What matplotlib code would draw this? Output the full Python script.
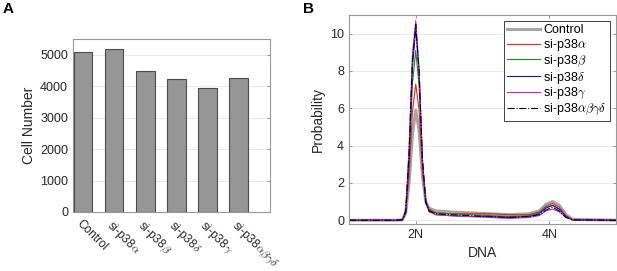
import matplotlib
matplotlib.use("Agg")
import matplotlib.pyplot as plt

plt.rcParams.update({
    "font.family": ["Liberation Sans", "DejaVu Sans"],
    "mathtext.fontset": "cm",
    "font.size": 9,
    "axes.edgecolor": "#999999",
    "xtick.color": "#999999",
    "ytick.color": "#999999",
    "xtick.labelcolor": "#262626",
    "ytick.labelcolor": "#262626",
    "xtick.direction": "in",
    "ytick.direction": "in",
    "xtick.major.size": 2.5,
    "ytick.major.size": 2.5,
})

# Panel A: cell numbers
conditions = ["Control", r"si-p38$\alpha$", r"si-p38$\beta$", r"si-p38$\delta$",
              r"si-p38$\gamma$", r"si-p38$\alpha\beta\gamma\delta$"]
cell_number = [5100, 5180, 4490, 4230, 3950, 4260]

# Panel B: DNA content distributions (x in units of N)
dna = [1.0, 1.7, 1.8, 1.85, 1.9, 1.95, 2.0, 2.05, 2.1, 2.15, 2.2, 2.3, 2.5,
       2.8, 3.1, 3.4, 3.7, 3.85, 3.95, 4.05, 4.15, 4.25, 4.35, 5.0]
p_control = [0, 0, 0.02, 0.4, 2.0, 4.6, 5.9, 4.8, 2.4, 1.0, 0.65, 0.5, 0.45,
             0.4, 0.35, 0.3, 0.35, 0.5, 0.85, 1.0, 0.8, 0.3, 0.05, 0]
p_alpha = [0, 0, 0.02, 0.4, 2.4, 5.8, 7.3, 5.9, 2.6, 1.0, 0.6, 0.4, 0.35,
           0.35, 0.35, 0.3, 0.3, 0.45, 0.75, 0.9, 0.7, 0.25, 0.03, 0]
p_beta = [0, 0, 0.02, 0.4, 3.0, 7.3, 9.1, 7.2, 3.1, 1.0, 0.55, 0.4, 0.35,
          0.3, 0.25, 0.2, 0.25, 0.4, 0.7, 0.8, 0.6, 0.2, 0.02, 0]
p_delta = [0, 0, 0.02, 0.4, 3.4, 8.2, 10.3, 8.0, 3.3, 1.0, 0.5, 0.3, 0.25,
           0.2, 0.2, 0.15, 0.2, 0.35, 0.65, 0.8, 0.6, 0.2, 0.02, 0]
p_gamma = [0, 0, 0.05, 0.6, 3.9, 8.9, 10.7, 8.1, 3.1, 0.9, 0.45, 0.3, 0.25,
           0.2, 0.15, 0.1, 0.15, 0.25, 0.5, 0.6, 0.45, 0.15, 0.02, 0]
p_all = [0, 0, 0.03, 0.5, 3.6, 8.5, 10.5, 7.9, 3.2, 0.95, 0.5, 0.35, 0.3,
         0.25, 0.2, 0.15, 0.2, 0.3, 0.55, 0.7, 0.5, 0.15, 0.02, 0]

fig = plt.figure(figsize=(6.17, 2.71), dpi=100)

# ---- Panel A ----
axA = fig.add_axes([73 / 617, 1 - 212 / 271, 197 / 617, 173 / 271])
pos = list(range(1, len(conditions) + 1))
axA.bar(pos, cell_number, width=0.6, color="#969696", edgecolor="#4d4d4d",
        linewidth=0.8, zorder=3)
axA.set_xlim(0.68, 7.0)
axA.set_ylim(0, 5500)
axA.set_yticks([0, 1000, 2000, 3000, 4000, 5000])
axA.set_xticks(pos)
axA.set_xticklabels(conditions, rotation=-45, ha="left", va="top",
                    rotation_mode="anchor", fontsize=8.5)
axA.tick_params(axis="x", length=0, pad=4)
axA.tick_params(top=True, right=True)
axA.tick_params(axis="y", labelsize=9)
axA.yaxis.grid(True, color="#e6e6e6", linewidth=0.6, zorder=0)
axA.set_ylabel("Cell Number", fontsize=10, color="#262626", labelpad=3)

# ---- Panel B ----
axB = fig.add_axes([349 / 617, 1 - 224 / 271, 267 / 617, 209 / 271])
axB.plot(dna, p_control, color="#a6a6a6", linewidth=2.2, label="Control")
axB.plot(dna, p_alpha, color="#e8261e", linewidth=0.8, label=r"si-p38$\alpha$")
axB.plot(dna, p_beta, color="#1a8a1a", linewidth=0.8, label=r"si-p38$\beta$")
axB.plot(dna, p_delta, color="#1414c8", linewidth=0.8, label=r"si-p38$\delta$")
axB.plot(dna, p_gamma, color="#cc22cc", linewidth=0.8, label=r"si-p38$\gamma$")
axB.plot(dna, p_all, color="black", linewidth=0.8, linestyle="-.",
         label=r"si-p38$\alpha\beta\gamma\delta$")
axB.set_xlim(1, 5)
axB.set_ylim(-0.2, 11)
axB.set_xticks([2, 4])
axB.set_xticklabels(["2N", "4N"])
axB.set_yticks([0, 2, 4, 6, 8, 10])
axB.tick_params(top=True, right=True, labelsize=9)
axB.yaxis.grid(True, color="#e6e6e6", linewidth=0.6, zorder=0)
axB.set_xlabel("DNA", fontsize=10, color="#262626")
axB.set_ylabel("Probability", fontsize=10, color="#262626", labelpad=4)
leg = axB.legend(loc="upper right", fontsize=9, handlelength=2.6,
                 handletextpad=0.3, labelspacing=0.05, borderpad=0.25,
                 borderaxespad=0.5, fancybox=False, framealpha=1)
leg.get_frame().set_edgecolor("#404040")
leg.get_frame().set_linewidth(0.7)

fig.text(3 / 617, 1 - 2 / 271, "A", fontsize=11, fontweight="bold", va="top")
fig.text(303 / 617, 1 - 2 / 271, "B", fontsize=11, fontweight="bold", va="top")

fig.savefig("out.png", dpi=100)
